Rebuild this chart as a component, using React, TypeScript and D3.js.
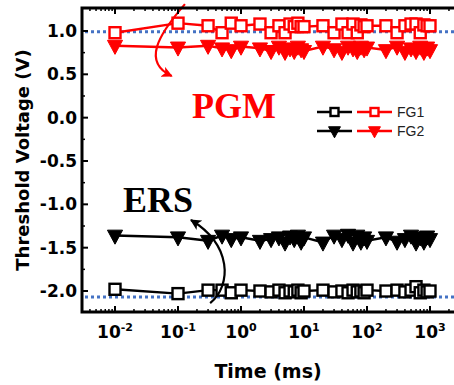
import React from "react";
import * as d3 from "d3";

const times = [0.01, 0.1, 0.3, 0.5, 0.7, 1, 2, 3, 4, 5, 6, 7, 8, 9, 10, 20, 30, 40, 50, 60, 70, 80, 90, 100, 200, 300, 400, 500, 600, 700, 800, 900, 1000];
const pgmFG1 = [0.98, 1.09, 1.06, 0.98, 1.09, 1.06, 1.08, 0.98, 1.06, 0.98, 1.08, 1.05, 1.09, 1.05, 1.05, 1.06, 0.98, 1.08, 0.98, 1.08, 0.98, 1.07, 1.05, 1.06, 1.06, 0.98, 1.06, 1.08, 1.08, 0.98, 1.07, 1.06, 1.06];
const pgmFG2 = [0.83, 0.81, 0.83, 0.80, 0.78, 0.82, 0.80, 0.77, 0.82, 0.76, 0.80, 0.77, 0.82, 0.79, 0.77, 0.82, 0.79, 0.76, 0.82, 0.80, 0.77, 0.82, 0.79, 0.81, 0.78, 0.82, 0.76, 0.80, 0.77, 0.82, 0.76, 0.81, 0.78];
const ersFG1 = [-1.98, -2.03, -1.99, -1.99, -2.02, -1.99, -2.00, -2.01, -1.99, -2.02, -2.00, -2.01, -1.99, -2.02, -2.00, -1.99, -2.01, -2.00, -2.02, -1.99, -2.01, -2.00, -2.02, -1.99, -2.00, -1.99, -2.01, -1.99, -1.95, -2.02, -1.99, -2.01, -2.00];
const ersFG2 = [-1.36, -1.38, -1.42, -1.36, -1.40, -1.38, -1.42, -1.40, -1.38, -1.44, -1.37, -1.40, -1.36, -1.43, -1.38, -1.44, -1.36, -1.40, -1.35, -1.44, -1.36, -1.43, -1.38, -1.42, -1.38, -1.43, -1.40, -1.36, -1.44, -1.38, -1.43, -1.37, -1.40];
const refLines = [0.99, -2.07];
const xTickExps = [-2, -1, 0, 1, 2, 3];
const yTicks = [-2.0, -1.5, -1.0, -0.5, 0.0, 0.5, 1.0];
const legendLabels = ["FG1", "FG2"];

const W = 454, H = 385;
const L = 82, R = 462, T = 8, B = 312;

const x = d3.scaleLog().domain([Math.pow(10, -2.524), Math.pow(10, 3.508)]).range([L, R]);
const y = d3.scaleLinear().domain([-2.242, 1.265]).range([B, T]);

const RED = "#ff0000";
const BLUE = "#4472c4";
const SANS = "'DejaVu Sans', sans-serif";
const SERIF = "'Liberation Serif', 'Times New Roman', serif";

const line = d3.line<[number, number]>().x(d => x(d[0])).y(d => y(d[1]));

function Square({ cx, cy, color, s = 11 }: { cx: number; cy: number; color: string; s?: number }) {
  return <rect x={cx - s / 2} y={cy - s / 2} width={s} height={s} fill="#fff" stroke={color} strokeWidth={2.4} />;
}
function Tri({ cx, cy, color, s = 1.08 }: { cx: number; cy: number; color: string; s?: number }) {
  const pts = [[-7 * s, -5 * s], [7 * s, -5 * s], [0, 8 * s]].map(p => `${cx + p[0]},${cy + p[1]}`).join(" ");
  return <polygon points={pts} fill={color} stroke={color} strokeWidth={1} strokeLinejoin="round" />;
}

function Series({ vals, color, kind }: { vals: number[]; color: string; kind: "sq" | "tri" }) {
  const pts = times.map((t, i) => [t, vals[i]] as [number, number]);
  return (
    <g>
      <path d={line(pts) || ""} fill="none" stroke={color} strokeWidth={2.4} />
      {pts.map((p, i) =>
        kind === "sq" ? <Square key={i} cx={x(p[0])} cy={y(p[1])} color={color} /> : <Tri key={i} cx={x(p[0])} cy={y(p[1])} color={color} />
      )}
    </g>
  );
}

// annotation arrows in [log10(time), voltage]
const redArrow = [[-0.89, 1.31], [-1.32, 0.95], [-1.57, 0.64], [-1.1, 0.48]];
const blackArrow = [[-0.49, -2.139], [-0.143, -1.931], [-0.143, -1.47], [-0.794, -1.181]];
function arrowPath(a: number[][]) {
  const p = a.map(q => [x(Math.pow(10, q[0])), y(q[1])]);
  return `M${p[0][0]},${p[0][1]} C${p[1][0]},${p[1][1]} ${p[2][0]},${p[2][1]} ${p[3][0]},${p[3][1]}`;
}

export default function App() {
  const minorX: number[] = [];
  for (let e = -3; e <= 3; e++) for (let m = 2; m <= 9; m++) {
    const v = m * Math.pow(10, e);
    if (x(v) > L + 1 && x(v) < R - 1) minorX.push(v);
  }
  const minorY = [-1.75, -1.25, -0.75, -0.25, 0.25, 0.75];
  return (
    <svg width={W} height={H} style={{ position: "absolute", left: 0, top: 0, background: "#fff" }}>
      <defs>
        <marker id="ahR" viewBox="0 0 10 10" refX="9" refY="5" markerWidth="5" markerHeight="5" orient="auto" markerUnits="strokeWidth">
          <path d="M0,0 L10,5 L0,10 L2.5,5 Z" fill={RED} />
        </marker>
        <marker id="ahK" viewBox="0 0 10 10" refX="9" refY="5" markerWidth="5" markerHeight="5" orient="auto" markerUnits="strokeWidth">
          <path d="M0,0 L10,5 L0,10 L2.5,5 Z" fill="#000" />
        </marker>
      </defs>
      {refLines.map((v, i) => (
        <line key={i} x1={L + 3} x2={W} y1={y(v)} y2={y(v)} stroke={BLUE} strokeWidth={3} strokeDasharray="3,3" />
      ))}
      <Series vals={ersFG1} color="#000" kind="sq" />
      <Series vals={ersFG2} color="#000" kind="tri" />
      <Series vals={pgmFG2} color={RED} kind="tri" />
      <Series vals={pgmFG1} color={RED} kind="sq" />
      <path d={arrowPath(redArrow)} fill="none" stroke={RED} strokeWidth={2.2} markerEnd="url(#ahR)" />
      <path d={arrowPath(blackArrow)} fill="none" stroke="#000" strokeWidth={2.2} markerEnd="url(#ahK)" />
      <text x={x(0.774)} y={y(-0.004)} textAnchor="middle" fontFamily={SERIF} fontWeight="bold" fontSize={36} fill={RED}>PGM</text>
      <text x={x(0.048)} y={y(-1.09)} textAnchor="middle" fontFamily={SERIF} fontWeight="bold" fontSize={36} fill="#000">ERS</text>
      <rect x={L} y={T} width={R - L} height={B - T} fill="none" stroke="#000" strokeWidth={3} />
      {xTickExps.map(e => {
        const px = x(Math.pow(10, e));
        return (
          <g key={e}>
            <line x1={px} x2={px} y1={B} y2={B - 6} stroke="#000" strokeWidth={2} />
            <line x1={px} x2={px} y1={T} y2={T + 6} stroke="#000" strokeWidth={2} />
            <text x={px} y={338} textAnchor="middle" fontFamily={SANS} fontWeight="bold" fontSize={17}>
              10<tspan dy={-7} fontSize={11}>{e}</tspan>
            </text>
          </g>
        );
      })}
      {minorX.map((v, i) => (
        <g key={i}>
          <line x1={x(v)} x2={x(v)} y1={B} y2={B - 3} stroke="#000" strokeWidth={1.5} />
          <line x1={x(v)} x2={x(v)} y1={T} y2={T + 3} stroke="#000" strokeWidth={1.5} />
        </g>
      ))}
      {yTicks.map(v => (
        <g key={v}>
          <line x1={L} x2={L + 6} y1={y(v)} y2={y(v)} stroke="#000" strokeWidth={2} />
          <text x={77} y={y(v) + 6} textAnchor="end" fontFamily={SANS} fontWeight="bold" fontSize={17}>{v.toFixed(1)}</text>
        </g>
      ))}
      {minorY.map(v => (
        <line key={v} x1={L} x2={L + 3} y1={y(v)} y2={y(v)} stroke="#000" strokeWidth={1.5} />
      ))}
      <text x={268} y={378} textAnchor="middle" fontFamily={SANS} fontWeight="bold" fontSize={19}>Time (ms)</text>
      <text transform="translate(29,160) rotate(-90)" textAnchor="middle" fontFamily={SANS} fontWeight="bold" fontSize={18}>Threshold Voltage (V)</text>
      {legendLabels.map((lab, i) => {
        const ly = 112 + i * 19;
        return (
          <g key={lab}>
            <line x1={317} x2={352} y1={ly} y2={ly} stroke="#000" strokeWidth={2.5} />
            <line x1={357} x2={392} y1={ly} y2={ly} stroke={RED} strokeWidth={2.5} />
            {i === 0 ? (
              <>
                <Square cx={334.5} cy={ly} color="#000" s={8} />
                <Square cx={374.5} cy={ly} color={RED} s={8} />
              </>
            ) : (
              <>
                <Tri cx={334.5} cy={ly} color="#000" s={0.85} />
                <Tri cx={374.5} cy={ly} color={RED} s={0.85} />
              </>
            )}
            <text x={397} y={ly + 5} fontFamily="'Liberation Sans', Arial, sans-serif" fontSize={14} fill="#222">{lab}</text>
          </g>
        );
      })}
    </svg>
  );
}
